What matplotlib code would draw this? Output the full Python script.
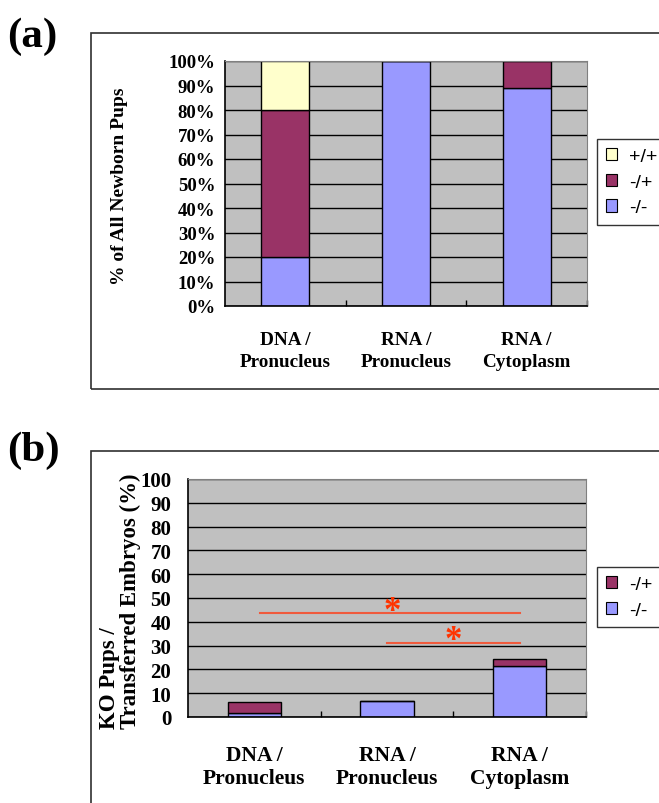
import matplotlib
matplotlib.use('Agg')
import matplotlib.pyplot as plt
from matplotlib.patches import Rectangle, Patch
import numpy as np

# figure data
categories = ['DNA /\nPronucleus', 'RNA /\nPronucleus', 'RNA /\nCytoplasm']

# (a) % of all newborn pups
a_hom = [20, 100, 88.9]   # -/-
a_het = [60, 0, 11.1]     # -/+
a_wt = [20, 0, 0]         # +/+
a_ticks = list(range(0, 101, 10))
a_ticklabels = [f'{t}%' for t in a_ticks]

# (b) KO pups / transferred embryos (%)
b_hom = [1.7, 6.8, 21.5]  # -/-
b_het = [4.7, 0, 2.7]     # -/+
b_ticks = list(range(0, 101, 10))

# significance brackets in (b): y level, start and end category index
sig_y = [43.6, 31.3]
sig_from = [0.04, 1]
sig_to = [2, 2]
star_x = [1.04, 1.5]

C_HOM = '#9999FF'
C_HET = '#993366'
C_WT = '#FFFFCC'
C_BG = '#C0C0C0'
C_SIG = '#F05A3C'

SERIF = ['Liberation Serif', 'DejaVu Serif']
SANS = ['Liberation Sans', 'DejaVu Sans']

W, H = 659, 804
fig = plt.figure(figsize=(W / 100, H / 100), dpi=100)


def fx(px):
    return px / W


def fy(py):
    return 1 - py / H


def style_axes(ax, ticks, ticklabels, tick_fs, xlab_fs, ypad, xpad, linesp):
    ax.set_facecolor(C_BG)
    ax.set_axisbelow(True)
    ax.yaxis.grid(True, color='black', linewidth=1.0)
    ax.set_ylim(0, 100)
    ax.set_xlim(-0.5, 2.5)
    ax.set_yticks(ticks)
    ax.set_yticklabels(ticklabels, family=SERIF, fontweight='bold', fontsize=tick_fs)
    ax.tick_params(axis='y', length=0, pad=ypad)
    ax.set_xticks(range(len(categories)))
    ax.set_xticklabels(categories, family=SERIF, fontweight='bold',
                       fontsize=xlab_fs, linespacing=linesp)
    ax.tick_params(axis='x', which='major', length=0, pad=xpad)
    ax.set_xticks([0.5, 1.5, 2.5], minor=True)
    ax.tick_params(axis='x', which='minor', direction='in', length=4, width=1, color='black')
    for side in ['left', 'bottom']:
        ax.spines[side].set_color('black')
        ax.spines[side].set_linewidth(1.2)
    for side in ['top', 'right']:
        ax.spines[side].set_color('#808080')
        ax.spines[side].set_linewidth(0.8)


def legend_at(handles, labels, top_px):
    leg = fig.legend(handles, labels, loc='upper left',
                     bbox_to_anchor=(fx(597), fy(top_px)), frameon=True, fancybox=False,
                     prop={'family': SANS, 'size': 14}, handlelength=0.6, handleheight=0.6,
                     handletextpad=0.6, labelspacing=0.45, borderpad=0.45, borderaxespad=0)
    leg.get_frame().set_edgecolor('black')
    leg.get_frame().set_linewidth(1.0)
    return leg


# outer frames
fig.add_artist(Rectangle((fx(91), fy(390)), fx(W + 10 - 91), fy(34) - fy(390),
                         transform=fig.transFigure, fill=False, edgecolor='#303030', linewidth=1.2))
fig.add_artist(Rectangle((fx(91), fy(H + 10)), fx(W + 10 - 91), fy(452) - fy(H + 10),
                         transform=fig.transFigure, fill=False, edgecolor='#303030', linewidth=1.2))

fig.text(fx(7), fy(37), '(a)', family=SERIF, fontweight='bold', fontsize=31, va='center', ha='left')
fig.text(fx(7), fy(451), '(b)', family=SERIF, fontweight='bold', fontsize=31, va='center', ha='left')

# ---- panel (a)
ax1 = fig.add_axes([fx(225), fy(307), fx(587) - fx(225), fy(62) - fy(307)])
x = np.arange(len(categories))
bw = 0.4
ax1.bar(x, a_hom, bw, color=C_HOM, edgecolor='black', linewidth=1, label='-/-')
ax1.bar(x, a_het, bw, bottom=a_hom, color=C_HET, edgecolor='black', linewidth=1, label='-/+')
ax1.bar(x, a_wt, bw, bottom=np.add(a_hom, a_het), color=C_WT, edgecolor='black', linewidth=1, label='+/+')
style_axes(ax1, a_ticks, a_ticklabels, 13.5, 13.8, 7, 18, 1.4)
fig.text(fx(119), fy(186), '% of All Newborn Pups', family=SERIF, fontweight='bold',
         fontsize=14, rotation=90, ha='center', va='center')

h1 = [Patch(facecolor=c, edgecolor='black', linewidth=0.8) for c in [C_WT, C_HET, C_HOM]]
legend_at(h1, ['+/+', '-/+', '-/-'], 140)

# ---- panel (b)
ax2 = fig.add_axes([fx(188), fy(718), fx(586) - fx(188), fy(480) - fy(718)])
ax2.bar(x, b_hom, bw, color=C_HOM, edgecolor='black', linewidth=1, label='-/-')
ax2.bar(x, b_het, bw, bottom=b_hom, color=C_HET, edgecolor='black', linewidth=1, label='-/+')
style_axes(ax2, b_ticks, [str(t) for t in b_ticks], 15, 15.5, 12, 20, 1.22)

for yv, i0, i1, sx in zip(sig_y, sig_from, sig_to, star_x):
    ax2.plot([i0, i1], [yv, yv], color=C_SIG, linewidth=1.5, zorder=3)
    ax2.text(sx, yv - 2.8, '*', color='#FF3300', family=SERIF, fontweight='bold',
             fontsize=25, ha='center', va='baseline', zorder=4)

fig.text(fx(120), fy(729), 'KO Pups /\nTransferred Embryos (%)', family=SERIF, fontweight='bold',
         fontsize=16.5, rotation=90, ha='center', va='bottom', multialignment='left', linespacing=0.95)

h2 = [Patch(facecolor=c, edgecolor='black', linewidth=0.8) for c in [C_HET, C_HOM]]
legend_at(h2, ['-/+', '-/-'], 568)

fig.savefig('out.png', dpi=100, facecolor='white')
